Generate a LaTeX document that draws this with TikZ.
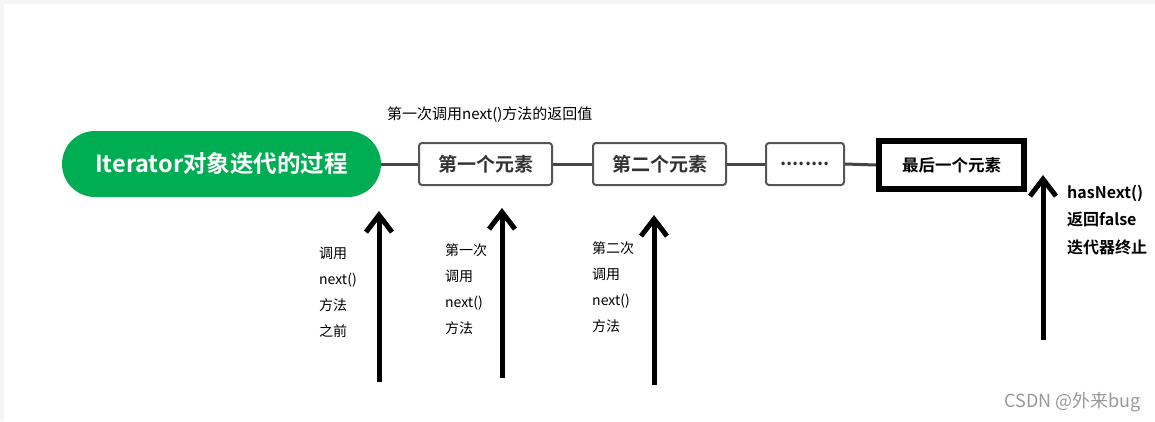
\documentclass[tikz,border=0pt]{standalone}
\usepackage{fontspec}
\setmainfont{Noto Sans CJK SC}[BoldFont={Noto Sans CJK SC Bold}]
\usepackage{xcolor}
\usepackage{tikz}
\usetikzlibrary{arrows.meta,positioning}
\definecolor{green}{HTML}{00AD52}
\definecolor{link}{HTML}{444444}
\definecolor{frame}{HTML}{555555}
\definecolor{ink}{HTML}{333333}
\tikzset{elem/.style={draw=frame,line width=2pt,rounded corners=3pt,fill=white,minimum width=133pt,minimum height=42pt,inner sep=0pt,font=\bfseries\fontsize{19}{21}\selectfont,text=ink},link/.style={draw=link,line width=3pt},upflow/.style={-{Straight Barb[length=17pt,width=26pt]},draw=black,line width=5pt},note/.style={anchor=west,inner sep=0pt,align=left,font=\fontsize{14}{26}\selectfont}}
\begin{document}
\begin{tikzpicture}[x=1pt,y=-1pt]
 \useasboundingbox (0,0) rectangle (1155,421);
 \fill[black!4] (0,0) rectangle (1155,421); \fill[white] (4,4) rectangle (1155,421);
 \node[fill=green,rounded corners=33pt,minimum width=319pt,minimum height=66pt,inner sep=0pt,text=white,font=\bfseries\fontsize{23.5}{26}\selectfont] (title) at (221.5,164) {Iterator对象迭代的过程};
 \node[elem] (first) at (485.5,164) {第一个元素};
 \node[elem] (second) at (659.5,164) {第二个元素};
 \node[elem,minimum width=78pt] (dots) at (805,164) {........};
 \node[draw=black,line width=6pt,minimum width=145pt,minimum height=48pt,inner sep=0pt,font=\bfseries\fontsize{16.5}{18}\selectfont] (last) at (951.5,165) {最后一个元素};
 \draw[link] (title.east)--(first.west); \draw[link] (first.east)--(second.west); \draw[link] (second.east)--(dots.west); \draw[link] (dots.east)--(last.west);
 \node[anchor=west,inner sep=0pt,font=\fontsize{15}{17}\selectfont] (ret) at (387,115) {第一次调用next()方法的返回值};
 \foreach \n/\x/\a/\b in {before/379/382/211,one/502/378/208,two/654/385/215,end/1043/340/175}{\coordinate (\n-s) at (\x,\a); \coordinate (\n-t) at (\x,\b); \draw[upflow] (\n-s)--(\n-t);}
 \node[note] (nbefore) at (319,292) {调用\\next()\\方法\\之前};
 \node[note] (none) at (445,289) {第一次\\调用\\next()\\方法};
 \node[note] (ntwo) at (592,287) {第二次\\调用\\next()\\方法};
 \node[note,font=\bfseries\fontsize{16}{27.5}\selectfont] (nend) at (1067,220) {hasNext()\\返回false\\迭代器终止};
 \node[anchor=east,inner sep=0pt,text=black!40,font=\fontsize{18}{20}\selectfont] (mark) at (1141,402) {CSDN @外来bug};
\end{tikzpicture}
\end{document}
